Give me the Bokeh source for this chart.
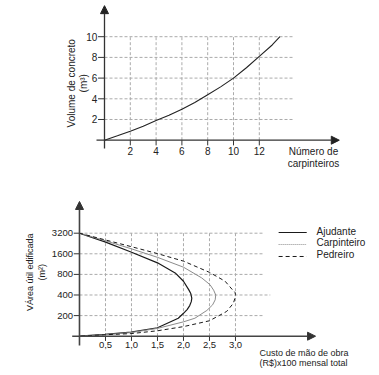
import numpy as np
from bokeh.plotting import figure
from bokeh.layouts import column
from bokeh.models import Arrow, NormalHead, Range1d
from bokeh.core.properties import value
from bokeh.embed import file_html
from bokeh.resources import INLINE

FONT = value("Liberation Sans")
TXT = "#222222"
GRID = "#ababab"

# ---------------- data: top chart ----------------
carp_count = [0, 1, 2, 3, 4, 5, 6, 7, 8, 9, 10, 11, 12, 13, 13.6]
concrete_vol = [0, 0.42, 0.87, 1.35, 1.9, 2.4, 3.0, 3.65, 4.4, 5.15, 6.0, 7.0, 8.1, 9.2, 10.0]
top_xticks = [2, 4, 6, 8, 10, 12]
top_yticks = [2, 4, 6, 8, 10]

# ---------------- data: bottom chart ----------------
cost_ajud = [0, 0.49, 0.99, 1.5, 1.84, 2.0, 2.1, 2.14, 2.16, 2.15, 2.12, 2.07, 2.0, 1.9, 1.5, 0.99, 0.49, 0]
area_ajud = [3200, 2390, 1700, 1180, 840, 636, 479, 420, 360, 320, 280, 245, 216, 183, 133, 115, 106, 100]
cost_carp = [0, 0.49, 0.99, 1.5, 2.0, 2.35, 2.51, 2.58, 2.62, 2.61, 2.56, 2.45, 2.22, 2.0, 1.5, 0.99, 0.49, 0]
area_carp = [3200, 2490, 1900, 1420, 1020, 711, 566, 470, 400, 340, 287, 238, 183, 162, 130, 113, 105, 100]
cost_ped = [0, 0.49, 0.99, 1.5, 2.0, 2.5, 2.8, 2.94, 2.99, 3.0, 2.99, 2.96, 2.83, 2.5, 2.0, 1.5, 0.99, 0.49, 0]
area_ped = [3200, 2560, 2040, 1610, 1250, 857, 636, 479, 440, 405, 360, 303, 230, 168, 138, 120, 109, 105, 100]
bot_xticks = [0.5, 1.0, 1.5, 2.0, 2.5, 3.0]
bot_xlabels = ["0,5", "1,0", "1,5", "2,0", "2,5", "3,0"]
bot_yticks = [200, 400, 800, 1600, 3200]
bot_ylabels = ["200", "400", "800", "1600", "3200"]
series_names = ["Ajudante", "Carpinteiro", "Pedreiro"]


def bare(fig):
    fig.grid.grid_line_color = None
    fig.outline_line_color = None
    fig.min_border = 0
    fig.min_border_left = 0
    fig.min_border_right = 0
    fig.min_border_top = 0
    fig.min_border_bottom = 0
    fig.background_fill_color = "white"
    fig.border_fill_color = "white"


# ================= TOP FIGURE =================
p1 = figure(width=376, height=180, output_backend="svg", toolbar_location=None,
            x_axis_location=None, y_axis_location=None,
            x_range=Range1d(-8.062, 21.085), y_range=Range1d(-3.894, 13.498))
bare(p1)

# grid
p1.segment(x0=[0] * len(top_yticks), y0=top_yticks, x1=[14.6] * len(top_yticks), y1=top_yticks,
           line_color=GRID, line_dash="3 2", line_width=1)
p1.segment(x0=top_xticks, y0=[0] * len(top_xticks), x1=top_xticks, y1=[10] * len(top_xticks),
           line_color=GRID, line_dash="3 2", line_width=1)
# ticks
p1.segment(x0=top_xticks, y0=[0] * len(top_xticks), x1=top_xticks, y1=[-0.5] * len(top_xticks),
           line_color="#333333", line_width=1)
p1.segment(x0=[-0.5] * len(top_yticks), y0=top_yticks, x1=[0] * len(top_yticks), y1=top_yticks,
           line_color="#333333", line_width=1)
# axes with arrows
p1.add_layout(Arrow(end=NormalHead(size=8, fill_color="#222222", line_color="#222222"),
                    x_start=-0.62, y_start=0, x_end=18.2, y_end=0,
                    line_color="#333333", line_width=1.3))
p1.add_layout(Arrow(end=NormalHead(size=8, fill_color="#222222", line_color="#222222"),
                    x_start=0, y_start=-0.8, x_end=0, y_end=13.0,
                    line_color="#333333", line_width=1.3))
# curve
p1.line(carp_count, concrete_vol, line_color="#222222", line_width=1.1)
# tick labels
p1.text(x=top_xticks, y=[-0.64] * len(top_xticks), text=[str(t) for t in top_xticks],
        text_font=FONT, text_font_size="10px", text_color=TXT,
        text_align="center", text_baseline="top")
p1.text(x=[-0.55] * len(top_yticks), y=top_yticks, text=[str(t) for t in top_yticks],
        text_font=FONT, text_font_size="10px", text_color=TXT,
        text_align="right", text_baseline="middle")
# axis titles
p1.text(x=[16.2, 16.2], y=[-1.09, -2.22], text=["Número de", "carpinteiros"],
        text_font=FONT, text_font_size="10px", text_color=TXT,
        text_align="center", text_baseline="middle")
p1.text(x=[-2.56, -1.63], y=[5.5, 5.5], text=["Volume de concreto", "(m³)"],
        angle=np.pi / 2, text_font=FONT, text_font_size="10px", text_color=TXT,
        text_align="center", text_baseline="middle")

# ================= BOTTOM FIGURE =================
def lvl(L):
    return 100 * 2 ** L

p2 = figure(width=376, height=193, output_backend="svg", toolbar_location=None,
            x_axis_location=None, y_axis_location=None, y_axis_type="log",
            x_range=Range1d(-1.519, 5.712), y_range=Range1d(lvl(-1.811), lvl(7.558)))
bare(p2)

grid_ends = [3.52, 3.67, 3.52, 3.52, 3.52]
p2.segment(x0=[0] * len(bot_yticks), y0=bot_yticks, x1=grid_ends, y1=bot_yticks,
           line_color=GRID, line_dash="3 2", line_width=1)
p2.segment(x0=bot_xticks, y0=[100] * len(bot_xticks), x1=bot_xticks, y1=[3200] * len(bot_xticks),
           line_color=GRID, line_dash="3 2", line_width=1)
# ticks
p2.segment(x0=bot_xticks, y0=[100] * len(bot_xticks), x1=bot_xticks, y1=[lvl(-0.23)] * len(bot_xticks),
           line_color="#333333", line_width=1)
p2.segment(x0=[-0.11] * len(bot_yticks), y0=bot_yticks, x1=[0] * len(bot_yticks), y1=bot_yticks,
           line_color="#333333", line_width=1)
# axes
p2.add_layout(Arrow(end=NormalHead(size=8, fill_color="#333333", line_color="#333333"),
                    x_start=-0.14, y_start=100, x_end=4.54, y_end=100,
                    line_color="#444444", line_width=1.6))
p2.add_layout(Arrow(end=NormalHead(size=8, fill_color="#333333", line_color="#333333"),
                    x_start=0, y_start=lvl(-0.45), x_end=0, y_end=lvl(6.54),
                    line_color="#444444", line_width=1.6))
# curves
p2.line(cost_ajud, area_ajud, line_color="#1a1a1a", line_width=1.2)
p2.line(cost_carp, area_carp, line_color="#8c8c8c", line_width=1)
p2.line(cost_ped, area_ped, line_color="#1a1a1a", line_width=1, line_dash="4 3")
# tick labels
p2.text(x=bot_xticks, y=[lvl(-0.26)] * len(bot_xticks), text=bot_xlabels,
        text_font=FONT, text_font_size="9.5px", text_color=TXT,
        text_align="center", text_baseline="top")
p2.text(x=[-0.125] * len(bot_yticks), y=bot_yticks, text=bot_ylabels,
        text_font=FONT, text_font_size="9.5px", text_color=TXT,
        text_align="right", text_baseline="middle")
# axis titles
p2.text(x=[3.46, 3.46], y=[lvl(-0.825), lvl(-1.31)],
        text=["Custo de mão de obra", "(R$)x100 mensal total"],
        text_font=FONT, text_font_size="9px", text_color=TXT,
        text_align="left", text_baseline="middle")
p2.text(x=[-0.948, -0.717], y=[lvl(3.107), lvl(3.107)], text=["VÁrea útil edificada", "(m²)"],
        angle=np.pi / 2, text_font=FONT, text_font_size="9px", text_color=TXT,
        text_align="center", text_baseline="middle")
# legend (drawn manually)
leg_line_y = [lvl(5.034), lvl(4.451), lvl(3.869)]
leg_text_y = [lvl(5.097), lvl(4.534), lvl(3.966)]
p2.line([3.83, 4.37], [leg_line_y[0]] * 2, line_color="#1a1a1a", line_width=1.2)
p2.line([3.83, 4.37], [leg_line_y[1]] * 2, line_color="#8c8c8c", line_width=1, line_dash="1 1")
p2.line([3.83, 4.37], [leg_line_y[2]] * 2, line_color="#1a1a1a", line_width=1, line_dash="4 3")
p2.text(x=[4.558] * 3, y=leg_text_y, text=series_names,
        text_font=FONT, text_font_size="10px", text_color=TXT,
        text_align="left", text_baseline="middle")

layout = column(p1, p2, spacing=0)
open("out.html", "w").write(file_html(layout, INLINE))
